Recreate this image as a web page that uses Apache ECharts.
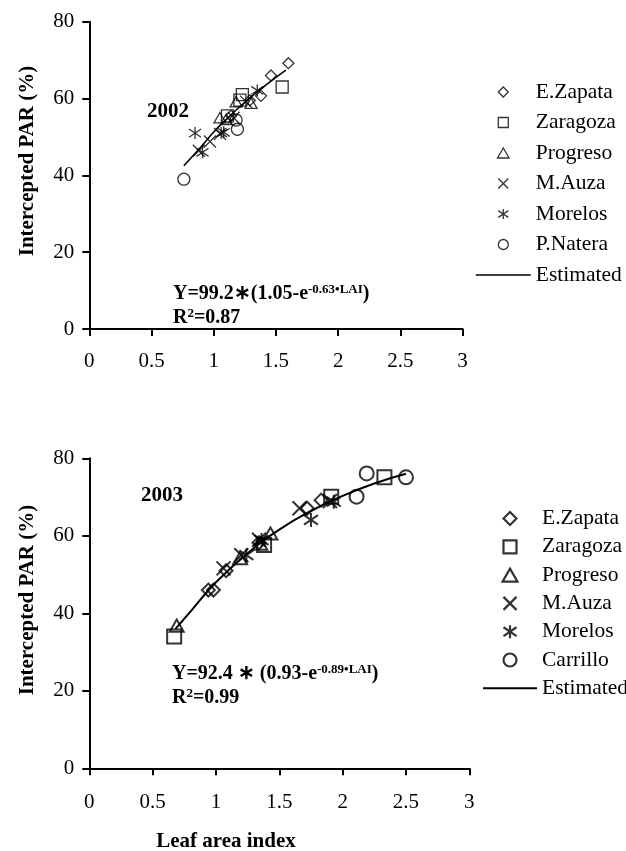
<!DOCTYPE html>
<html>
<head>
<meta charset="utf-8">
<script src="https://cdn.jsdelivr.net/npm/echarts@6/dist/echarts.min.js"></script>
<style>
html,body{margin:0;padding:0;background:#fff;}
#c{width:626px;height:851px;}
</style>
</head>
<body>
<div id="c"></div>
<script>
// ---------- data ----------
var xTicks = ['0', '0.5', '1', '1.5', '2', '2.5', '3'];
var yTicks = ['0', '20', '40', '60', '80'];

// 2002
var zapata02 = [[1.60, 69.2], [1.46, 66.0], [1.38, 60.7], [1.29, 59.5], [1.14, 55.5]];
var zaragoza02 = [[1.55, 63.0], [1.23, 61.0], [1.21, 59.6], [1.11, 55.5]];
var progreso02 = [[1.18, 59.2], [1.30, 58.8], [1.05, 55.0], [1.10, 54.6]];
var auza02 = [[0.88, 46.4], [0.97, 48.8], [1.16, 55.0], [1.05, 50.8], [1.26, 59.2]];
var morelos02 = [[1.35, 62.1], [0.85, 51.0], [1.06, 51.0], [1.08, 51.2], [0.91, 46.0]];
var natera02 = [[0.76, 39.0], [1.19, 52.0], [1.18, 54.4]];
var est02 = [[0.76, 42.5], [0.9, 47.5], [1.0, 51.3], [1.1, 54.5], [1.2, 57.6], [1.3, 60.4], [1.4, 63.0], [1.5, 65.5], [1.58, 67.4]];

// 2003
var zapata03 = [[0.94, 46.0], [0.98, 46.0], [1.08, 51.0], [1.34, 58.2], [1.72, 67.1], [1.83, 69.2]];
var zaragoza03 = [[0.67, 34.0], [1.38, 57.6], [1.91, 70.1], [2.33, 75.1]];
var progreso03 = [[0.69, 36.8], [1.19, 54.2], [1.35, 58.0], [1.43, 60.6]];
var auza03 = [[1.06, 51.6], [1.20, 55.0], [1.34, 59.0], [1.66, 67.1], [1.90, 69.0]];
var morelos03 = [[1.24, 55.0], [1.36, 58.9], [1.75, 64.1], [1.93, 68.8]];
var carrillo03 = [[2.11, 70.1], [2.19, 76.1], [2.50, 75.1]];
var est03 = [[0.68, 36.0], [0.8, 40.5], [1.0, 48.0], [1.25, 55.5], [1.5, 61.6], [1.75, 66.4], [2.0, 70.3], [2.25, 73.5], [2.5, 76.0]];

var names02 = ['E.Zapata', 'Zaragoza', 'Progreso', 'M.Auza', 'Morelos', 'P.Natera', 'Estimated'];
var names03 = ['E.Zapata', 'Zaragoza', 'Progreso', 'M.Auza', 'Morelos', 'Carrillo', 'Estimated'];

// ---------- symbols ----------
var SYM = {
  diamond: 'path://M5,0L10,5L5,10L0,5Z',
  square: 'path://M0,0L10,0L10,10L0,10Z',
  triangle: 'path://M5,0L10,8.7L0,8.7Z',
  cross: 'path://M0,0L10,10M10,0L0,10',
  star: 'path://M0,1.6L10,8.4M10,1.6L0,8.4M5,0L5,10',
  circle: 'path://M10,5A5,5,0,1,1,0,5A5,5,0,1,1,10,5Z'
};
var SERIF = 'Liberation Serif';
var CLEAR = 'rgba(0,0,0,0)';

function scat(name, data, sym, size, bw, gi) {
  return {
    type: 'scatter', name: name, data: data,
    xAxisIndex: gi, yAxisIndex: gi,
    symbol: sym, symbolSize: size, symbolKeepAspect: true,
    itemStyle: { color: CLEAR, borderColor: '#000', borderWidth: bw },
    z: 3
  };
}
function est(data, w, gi) {
  return {
    type: 'line', name: 'Estimated', data: data, smooth: true,
    xAxisIndex: gi, yAxisIndex: gi, symbol: 'none',
    itemStyle: { color: CLEAR, borderColor: CLEAR, borderWidth: 0 },
    lineStyle: { color: '#000', width: w }, z: 2
  };
}

function xAx(gi, margin) {
  return {
    type: 'value', gridIndex: gi, min: 0, max: 3, interval: 0.5,
    axisLine: { lineStyle: { color: '#000', width: 2 } },
    axisTick: { show: true, inside: false, length: 7, lineStyle: { color: '#000', width: 2 } },
    splitLine: { show: false },
    axisLabel: { margin: margin, color: '#000', fontFamily: SERIF, fontSize: 21,
      formatter: function (v) { return xTicks[Math.round(v / 0.5)]; } }
  };
}
function yAx(gi) {
  return {
    type: 'value', gridIndex: gi, min: 0, max: 80, interval: 20,
    axisLine: { show: true, lineStyle: { color: '#000', width: 2 } },
    axisTick: { show: true, inside: false, length: 7, lineStyle: { color: '#000', width: 2 } },
    splitLine: { show: false },
    axisLabel: { margin: 15, color: '#000', fontFamily: SERIF, fontSize: 21,
      formatter: function (v) { return yTicks[Math.round(v / 20)]; } }
  };
}

var richEq = {
  m: { fontFamily: SERIF, fontWeight: 'bold', fontSize: 20, lineHeight: 22, color: '#000' },
  s: { fontFamily: SERIF, fontWeight: 'bold', fontSize: 13, lineHeight: 14, verticalAlign: 'top', color: '#000' }
};
function txt(x, y, text, opt) {
  opt = opt || {};
  return {
    type: 'text', x: x, y: y, rotation: opt.rot || 0, silent: true,
    style: {
      text: text, fill: '#000',
      font: (opt.bold === false ? '' : 'bold ') + (opt.size || 21) + 'px "' + SERIF + '"',
      align: opt.align || 'left', verticalAlign: 'middle',
      rich: opt.rich
    }
  };
}

var legendBase = {
  orient: 'vertical', selectedMode: false, symbolKeepAspect: true, padding: 0,
  textStyle: { fontFamily: SERIF, fontSize: 21.5, color: '#000' }
};

var option = {
  animation: false,
  backgroundColor: '#fff',
  grid: [
    { left: 89.3, top: 21.7, width: 373.3, height: 307.3 },
    { left: 89.3, top: 458.3, width: 380, height: 310 }
  ],
  xAxis: [xAx(0, 22), xAx(1, 24)],
  yAxis: [yAx(0), yAx(1)],
  legend: [
    Object.assign({}, legendBase, {
      left: 475, top: 81, itemWidth: 55, itemHeight: 10, itemGap: 8.5,
      itemStyle: { borderWidth: 1.3 },
      lineStyle: { width: 1.6 },
      data: names02
    }),
    Object.assign({}, legendBase, {
      left: 482, top: 507.5, itemWidth: 54, itemHeight: 13, itemGap: 6.3,
      itemStyle: { borderWidth: 2.2 },
      lineStyle: { width: 2 },
      data: names03
    })
  ],
  series: [
    est(est02, 1.6, 0),
    scat(names02[0], zapata02, SYM.diamond, 11, 1.3, 0),
    scat(names02[1], zaragoza02, SYM.square, 12, 1.3, 0),
    scat(names02[2], progreso02, SYM.triangle, 12, 1.3, 0),
    scat(names02[3], auza02, SYM.cross, 12, 1.3, 0),
    scat(names02[4], morelos02, SYM.star, 12, 1.3, 0),
    scat(names02[5], natera02, SYM.circle, 12, 1.3, 0),
    est(est03, 2, 1),
    scat(names03[0], zapata03, SYM.diamond, 13, 2, 1),
    scat(names03[1], zaragoza03, SYM.square, 14, 2, 1),
    scat(names03[2], progreso03, SYM.triangle, 14, 2, 1),
    scat(names03[3], auza03, SYM.cross, 14, 2, 1),
    scat(names03[4], morelos03, SYM.star, 14, 2, 1),
    scat(names03[5], carrillo03, SYM.circle, 14, 2, 1)
  ],
  graphic: [
    txt(147, 112, '2002'),
    txt(141, 496, '2003'),
    txt(173, 294, '{m|Y=99.2\u2217(1.05-e}{s|-0.63\u2022LAI}{m|)}', { rich: richEq }),
    txt(173, 318, '{m|R}{s|2}{m|=0.87}', { rich: richEq }),
    txt(172, 674, '{m|Y=92.4 \u2217 (0.93-e}{s|-0.89\u2022LAI}{m|)}', { rich: richEq }),
    txt(172, 698, '{m|R}{s|2}{m|=0.99}', { rich: richEq }),
    txt(27.5, 161, 'Intercepted PAR (%)', { rot: Math.PI / 2, align: 'center' }),
    txt(27.5, 600, 'Intercepted PAR (%)', { rot: Math.PI / 2, align: 'center' }),
    txt(226, 842, 'Leaf area index', { align: 'center' })
  ]
};

var chart = echarts.init(document.getElementById('c'), null, { renderer: 'canvas' });
chart.setOption(option);
</script>
</body>
</html>
